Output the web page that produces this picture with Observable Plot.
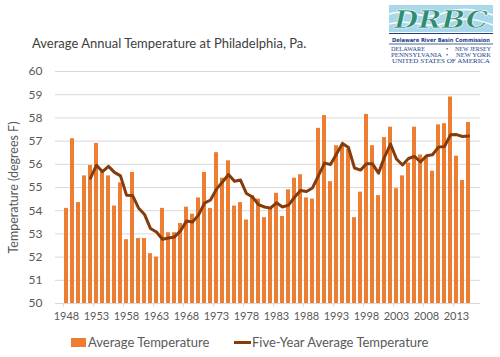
<!DOCTYPE html>
<html>
<head>
<meta charset="utf-8">
<script src="https://cdn.jsdelivr.net/npm/d3@7"></script>
<script src="https://cdn.jsdelivr.net/npm/@observablehq/plot@0.6"></script>
<style>
  body { margin: 0; background: #fff; }
  #wrap { position: relative; width: 500px; height: 357px; overflow: hidden; font-family: Lato, "Open Sans", sans-serif; }
  #chart { position: absolute; left: 0; top: 0; }
  #title { position: absolute; left: 32px; top: 35px; font-size: 13px; color: #404040; white-space: nowrap; }
  #logo { position: absolute; left: 389px; top: 5px; overflow: visible; }
  #legend { position: absolute; left: 0; top: 333px; width: 500px; height: 18px; font-size: 13px; color: #595959; }
  .lg { position: absolute; top: 0; white-space: nowrap; line-height: 18px; }
  .sw { position: absolute; }
</style>
</head>
<body>
<div id="wrap">
  <div id="chart"></div>
  <div id="title">Average Annual Temperature at Philadelphia, Pa.</div>
  <svg id="logo" width="104" height="58" viewBox="0 0 104 58">
    <rect x="0" y="0" width="104" height="27" fill="#a9d8ea"/>
    <path d="M0 9 C20 3, 35 16, 52 9 S 85 3, 104 10" fill="none" stroke="#ffffff" stroke-width="1.5"/>
    <path d="M0 19 C22 13, 38 25, 56 18 S 88 14, 104 20" fill="none" stroke="#ffffff" stroke-width="1.5"/>
    <text x="52" y="23" text-anchor="middle" font-family="DejaVu Serif, serif" font-weight="bold" font-style="italic" font-size="24" fill="#2f8c72" stroke="#ffffff" stroke-width="0.6" textLength="94" lengthAdjust="spacingAndGlyphs">DRBC</text>
    <line x1="0" y1="28.5" x2="104" y2="28.5" stroke="#1d3f86" stroke-width="1"/>
    <text x="52" y="36.5" text-anchor="middle" font-family="DejaVu Sans Condensed, Liberation Sans, sans-serif" font-weight="bold" font-size="5.6" fill="#1d3f86" textLength="98" lengthAdjust="spacingAndGlyphs">Delaware River Basin Commission</text>
    <line x1="0" y1="39" x2="104" y2="39" stroke="#1d3f86" stroke-width="0.8"/>
    <text x="2" y="45.5" font-family="Liberation Serif, serif" font-size="5.8" fill="#1d3f86" textLength="34" lengthAdjust="spacingAndGlyphs">DELAWARE</text>
    <text x="58" y="45.5" text-anchor="middle" font-family="Liberation Serif, serif" font-size="6" fill="#1d3f86">•</text>
    <text x="102" y="45.5" text-anchor="end" font-family="Liberation Serif, serif" font-size="5.8" fill="#1d3f86" textLength="36" lengthAdjust="spacingAndGlyphs">NEW JERSEY</text>
    <text x="2" y="51.5" font-family="Liberation Serif, serif" font-size="5.8" fill="#1d3f86" textLength="51" lengthAdjust="spacingAndGlyphs">PENNSYLVANIA</text>
    <text x="58" y="51.5" text-anchor="middle" font-family="Liberation Serif, serif" font-size="6" fill="#1d3f86">•</text>
    <text x="102" y="51.5" text-anchor="end" font-family="Liberation Serif, serif" font-size="5.8" fill="#1d3f86" textLength="35" lengthAdjust="spacingAndGlyphs">NEW YORK</text>
    <text x="52" y="57.5" text-anchor="middle" font-family="Liberation Serif, serif" font-size="5.8" fill="#1d3f86" textLength="98" lengthAdjust="spacingAndGlyphs">UNITED STATES OF AMERICA</text>
  </svg>
  <div id="legend">
    <div class="sw" style="left:71px; top:5px; width:15px; height:9px; background:#ED7D31;"></div>
    <div class="lg" style="left:88px;">Average Temperature</div>
    <div class="sw" style="left:234px; top:8px; width:17px; height:3px; background:#843C0C;"></div>
    <div class="lg" style="left:252px;">Five-Year Average Temperature</div>
  </div>
</div>
<script>
const years = [1948,1949,1950,1951,1952,1953,1954,1955,1956,1957,1958,1959,1960,1961,1962,1963,1964,1965,1966,1967,
  1968,1969,1970,1971,1972,1973,1974,1975,1976,1977,1978,1979,1980,1981,1982,1983,1984,1985,1986,1987,
  1988,1989,1990,1991,1992,1993,1994,1995,1996,1997,1998,1999,2000,2001,2002,2003,2004,2005,2006,2007,
  2008,2009,2010,2011,2012,2013,2014,2015];
const avgTemp = [54.1,57.1,54.35,55.5,55.95,56.9,55.7,55.5,54.2,55.2,52.75,55.65,52.8,52.8,52.15,52.0,54.1,53.05,53.05,53.45,
  54.15,53.85,54.55,55.65,54.1,56.5,55.4,56.15,54.2,54.35,53.6,54.65,54.5,53.7,54.1,54.75,53.75,54.9,55.4,55.55,
  54.55,54.5,57.55,58.1,55.25,56.8,56.8,56.65,53.7,54.8,58.15,56.8,54.65,57.15,57.6,54.95,55.5,56.05,57.6,56.4,
  56.3,55.7,57.7,57.75,58.9,56.35,55.3,57.8];
const fiveYearYears = [1952,1953,1954,1955,1956,1957,1958,1959,1960,1961,1962,1963,1964,1965,1966,1967,
  1968,1969,1970,1971,1972,1973,1974,1975,1976,1977,1978,1979,1980,1981,1982,1983,1984,1985,1986,1987,
  1988,1989,1990,1991,1992,1993,1994,1995,1996,1997,1998,1999,2000,2001,2002,2003,2004,2005,2006,2007,
  2008,2009,2010,2011,2012,2013,2014,2015];
const fiveYearAvg = [55.40,55.96,55.68,55.91,55.65,55.50,54.67,54.66,54.12,53.84,53.23,53.08,52.77,52.82,52.87,53.13,
  53.56,53.51,53.81,54.33,54.46,54.93,55.24,55.56,55.27,55.32,54.74,54.59,54.26,54.16,54.11,54.34,54.16,54.24,54.58,54.87,
  54.83,54.98,55.51,56.05,55.99,56.44,56.90,56.72,55.84,55.75,56.02,56.02,55.62,56.31,56.87,56.23,55.97,56.25,56.34,56.10,
  56.37,56.41,56.74,56.77,57.27,57.28,57.20,57.22];
const yTicks = [50,51,52,53,54,55,56,57,58,59,60];
const xTickLabels = [1948,1953,1958,1963,1968,1973,1978,1983,1988,1993,1998,2003,2008,2013];

const bars = years.map((year, i) => ({year, value: avgTemp[i]}));
const avgLine = fiveYearYears.map((year, i) => ({year, value: fiveYearAvg[i]}));

const chart = Plot.plot({
  width: 500,
  height: 357,
  marginLeft: 55,
  marginRight: 20,
  marginTop: 71,
  marginBottom: 54,
  style: {fontFamily: "Lato, 'Open Sans', sans-serif", background: "transparent", color: "#595959", overflow: "visible"},
  x: {type: "band", domain: years, paddingInner: 0.28, paddingOuter: 0.14, label: null},
  y: {domain: [50, 60], label: null},
  marks: [
    Plot.ruleY(yTicks, {stroke: "#d9d9d9", strokeWidth: 1}),
    Plot.barY(bars, {x: "year", y1: 50, y2: "value", fill: "#ED7D31"}),
    Plot.line(avgLine, {x: "year", y: "value", stroke: "#843C0C", strokeWidth: 3, strokeLinejoin: "round", strokeLinecap: "round"}),
    Plot.axisY({ticks: yTicks, tickSize: 0, tickPadding: 13, fontSize: 12, fill: "#595959", label: null}),
    Plot.axisX({ticks: xTickLabels, tickFormat: (d) => String(d), tickSize: 0, tickPadding: 9, fontSize: 11, fill: "#595959", label: null}),
    Plot.axisX({ticks: xTickLabels, tickSize: 4, text: null, dx: -3.125, stroke: "#d9d9d9", label: null}),
    Plot.text(["Temperature (degrees F)"], {frameAnchor: "left", textAnchor: "middle", rotate: -90, dx: -42, fontSize: 12.5, fill: "#595959"})
  ]
});
document.getElementById("chart").appendChild(chart);
</script>
</body>
</html>
